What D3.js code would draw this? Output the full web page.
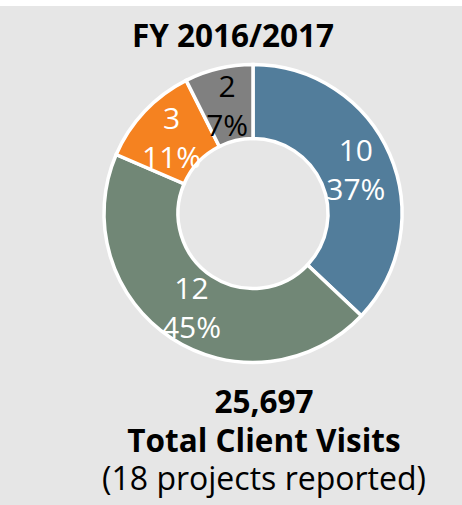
<!DOCTYPE html>
<html>
<head>
<meta charset="utf-8">
<script src="https://cdn.jsdelivr.net/npm/d3@7"></script>
<style>
  html, body { margin: 0; padding: 0; background: #ffffff; }
  svg { display: block; }
</style>
</head>
<body>
<svg id="chart" width="462" height="505"></svg>
<script>
// ---- data ----
const categories = ["A", "B", "C", "D"];
const counts = [10, 12, 3, 2];
const percentLabels = ["37%", "45%", "11%", "7%"];
const sliceColors = ["#527d9b", "#718776", "#f58220", "#808080"];
const labelColors = ["#ffffff", "#ffffff", "#ffffff", "#000000"];
const titleText = "FY 2016/2017";
const footerLines = ["25,697", "Total Client Visits", "(18 projects reported)"];

// ---- layout ----
const W = 462, H = 505;
const cx = 253, cy = 213.5;
const outerR = 149, innerR = 75;
const font = "'Open Sans', 'Noto Sans', sans-serif";

const svg = d3.select("#chart");

svg.append("rect")
  .attr("x", 0).attr("y", 6)
  .attr("width", W).attr("height", H - 6)
  .attr("fill", "#e6e6e6");

svg.append("text")
  .attr("x", 233).attr("y", 46.5)
  .attr("text-anchor", "middle")
  .attr("font-family", font)
  .attr("font-weight", 700)
  .attr("font-size", 31.5)
  .attr("fill", "#000")
  .text(titleText);

const pie = d3.pie().sort(null).value(d => d.v);
const arcs = pie(categories.map((c, i) => ({ c, v: counts[i], i })));
const arc = d3.arc().innerRadius(innerR).outerRadius(outerR);
const labelArc = d3.arc().innerRadius((innerR + outerR) / 2).outerRadius((innerR + outerR) / 2);

const g = svg.append("g").attr("transform", `translate(${cx},${cy})`);

g.selectAll("path.slice")
  .data(arcs)
  .join("path")
  .attr("class", "slice")
  .attr("d", arc)
  .attr("fill", d => sliceColors[d.data.i])
  .attr("stroke", "#ffffff")
  .attr("stroke-width", 3.5)
  .attr("stroke-linejoin", "miter");

const labels = g.selectAll("text.lbl")
  .data(arcs)
  .join("text")
  .attr("class", "lbl")
  .attr("text-anchor", "middle")
  .attr("font-family", font)
  .attr("font-size", 30)
  .attr("fill", d => labelColors[d.data.i])
  .attr("transform", d => {
    const [x, y] = labelArc.centroid(d);
    return `translate(${x},${y})`;
  });

labels.append("tspan")
  .attr("x", 0).attr("y", -8)
  .text(d => counts[d.data.i]);
labels.append("tspan")
  .attr("x", 0).attr("y", 31)
  .text(d => percentLabels[d.data.i]);

const footerY = [413, 451.5, 490];
const footerSize = [31.5, 31.5, 32];
footerLines.forEach((t, i) => {
  svg.append("text")
    .attr("x", 264).attr("y", footerY[i])
    .attr("text-anchor", "middle")
    .attr("font-family", font)
    .attr("font-weight", i < 2 ? 700 : 400)
    .attr("font-size", footerSize[i])
    .attr("fill", "#000")
    .text(t);
});
</script>
</body>
</html>
